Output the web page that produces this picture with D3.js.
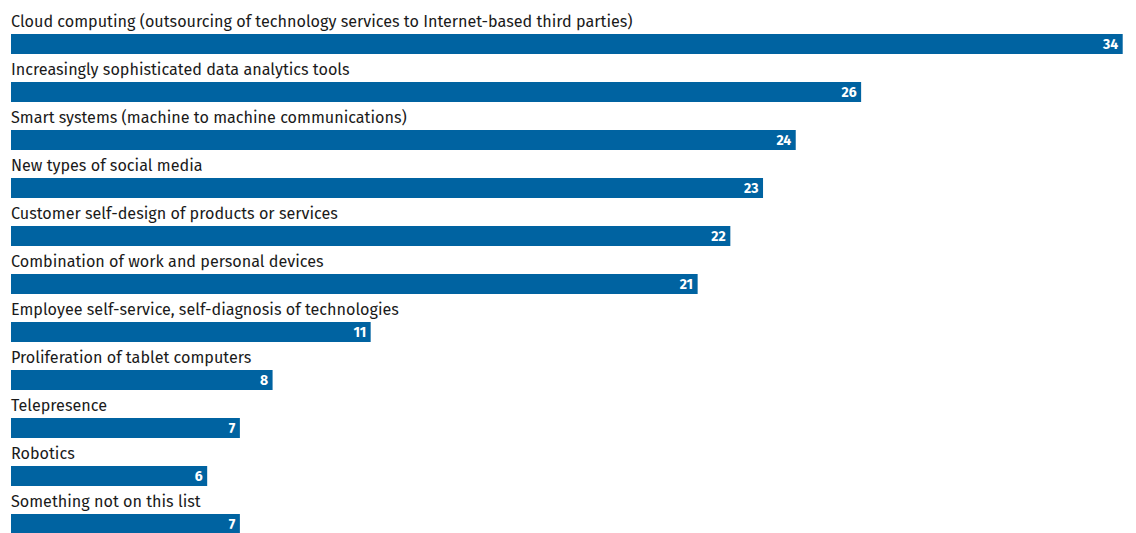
<!DOCTYPE html>
<html>
<head>
<meta charset="utf-8">
<script src="https://cdn.jsdelivr.net/npm/d3@7"></script>
<style>
  html, body { margin: 0; padding: 0; background: #fff; }
  svg { display: block; }
</style>
</head>
<body>
<svg id="chart" width="1136" height="533"></svg>
<script>
// Technologies and the share of respondents choosing each
const categories = [
  "Cloud computing (outsourcing of technology services to Internet-based third parties)",
  "Increasingly sophisticated data analytics tools",
  "Smart systems (machine to machine communications)",
  "New types of social media",
  "Customer self-design of products or services",
  "Combination of work and personal devices",
  "Employee self-service, self-diagnosis of technologies",
  "Proliferation of tablet computers",
  "Telepresence",
  "Robotics",
  "Something not on this list"
];
const values = [34, 26, 24, 23, 22, 21, 11, 8, 7, 6, 7];

const svg = d3.select("#chart");
const left = 11, right = 1122.7;
const rowTop = 34, rowStep = 48, barH = 20;

const x = d3.scaleLinear().domain([0, 34]).range([left, right]);
const y = d3.scaleLinear().domain([0, 1]).range([rowTop, rowTop + rowStep]);

const rows = svg.selectAll("g.row")
  .data(categories.map((c, i) => ({ c, v: values[i], i })))
  .join("g")
  .attr("class", "row");

const labels = rows.append("text")
  .attr("x", left)
  .attr("y", d => y(d.i) - 7.5)
  .attr("font-family", "'Fira Sans', 'Noto Sans', sans-serif")
  .attr("font-size", 16)
  .attr("fill", "#1a1a1a")
  .text(d => d.c);

rows.append("rect")
  .attr("x", x(0))
  .attr("y", d => y(d.i))
  .attr("width", d => x(d.v) - x(0))
  .attr("height", barH)
  .attr("fill", "#0063a1");

rows.append("text")
  .attr("x", d => x(d.v) - 4.5)
  .attr("y", d => y(d.i) + 15)
  .attr("text-anchor", "end")
  .attr("font-family", "'Fira Sans', 'Noto Sans', sans-serif")
  .attr("font-weight", "bold")
  .attr("font-size", 14)
  .attr("fill", "#fff")
  .text(d => d.v);

// Size the category labels so the longest line spans 622px
const w = labels.node().getComputedTextLength();
labels.attr("font-size", 16 * 622 / w);
</script>
</body>
</html>
